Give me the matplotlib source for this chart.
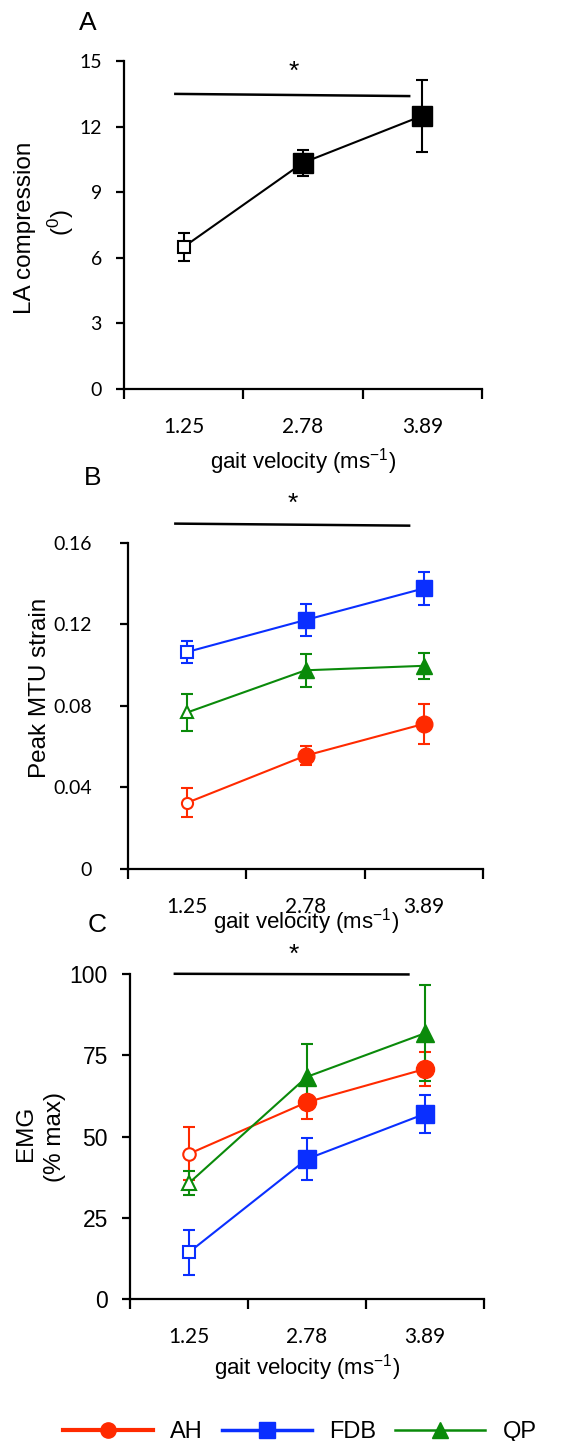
import numpy as np
import matplotlib.pyplot as plt
from matplotlib.lines import Line2D

plt.rcParams['font.family'] = ['Liberation Sans', 'DejaVu Sans']
plt.rcParams['mathtext.fontset'] = 'custom'
plt.rcParams['mathtext.rm'] = 'Liberation Sans'
plt.rcParams['mathtext.it'] = 'Liberation Sans:italic'

# gait velocities (m/s)
velocity = ['1.25', '2.78', '3.89']

# A: longitudinal arch compression (deg)
la_mean = [6.5, 10.35, 12.5]
la_err = [0.65, 0.6, 1.65]

# B: peak MTU strain
strain_ah = [0.0325, 0.0556, 0.0712]
strain_ah_err = [0.0072, 0.0047, 0.0098]
strain_fdb = [0.1065, 0.1222, 0.1377]
strain_fdb_err = [0.0052, 0.0080, 0.0080]
strain_qp = [0.0768, 0.0975, 0.0997]
strain_qp_err = [0.0093, 0.0080, 0.0063]

# C: EMG (% max)
emg_ah = [44.7, 60.6, 70.8]
emg_ah_err = [8.2, 5.2, 5.3]
emg_fdb = [14.4, 43.1, 57.0]
emg_fdb_err = [6.9, 6.6, 5.8]
emg_qp = [35.7, 68.4, 81.8]
emg_qp_err = [3.8, 10.0, 14.8]

RED = '#ff2a00'
BLUE = '#0a2fff'
GREEN = '#0a8a0a'

fig = plt.figure(figsize=(5.69, 14.41), dpi=100)
axA = fig.add_axes([0.218, 0.730, 0.629, 0.2276])
axB = fig.add_axes([0.225, 0.397, 0.624, 0.2262])
axC = fig.add_axes([0.2285, 0.0985, 0.622, 0.2255])

x = np.arange(len(velocity)) + 0.5


def style_axes(ax, ymax, yticks, ylabels, yfont, ypad, xlab_y):
    for s in ['top', 'right']:
        ax.spines[s].set_visible(False)
    for s in ['left', 'bottom']:
        ax.spines[s].set_linewidth(1.6)
    ax.set_xlim(0, 3)
    ax.set_ylim(0, ymax)
    ax.set_xticks([0, 1, 2, 3])
    ax.set_xticklabels([])
    ax.set_xticks(x, velocity, minor=True)
    ax.tick_params(axis='x', which='major', length=7, width=1.6, direction='out')
    ax.tick_params(axis='x', which='minor', length=0, pad=20, labelsize=15)
    for t in ax.get_xticklabels(minor=True):
        t.set_family(['Lato', 'DejaVu Sans'])
    ax.set_yticks(yticks, ylabels)
    ax.tick_params(axis='y', length=6, width=1.6, direction='out', pad=ypad,
                   labelsize=yfont[1])
    for t in ax.get_yticklabels():
        t.set_family([yfont[0], 'DejaVu Sans'])
    ax.text(0.5, xlab_y, 'gait velocity (ms$^{-1}$)', transform=ax.transAxes,
            ha='center', va='center', fontsize=16)


def draw_series(ax, y, err, color, marker, ms_open, ms_fill, lw=1.5):
    ax.errorbar(x, y, yerr=err, fmt='none', ecolor=color, elinewidth=lw,
                capsize=4.5, capthick=lw, zorder=2)
    ax.plot(x, y, color=color, lw=lw, zorder=3)
    ax.plot(x[:1], y[:1], marker, mfc='white', mec=color, mew=1.5,
            ms=ms_open, ls='none', zorder=4)
    ax.plot(x[1:], y[1:], marker, color=color, ms=ms_fill, ls='none', zorder=4)


# Panel A
style_axes(axA, 15, [0, 3, 6, 9, 12, 15], ['0', '3', '6', '9', '12', '15'],
           ('Lato', 14), 10, -0.22)
draw_series(axA, la_mean, la_err, 'black', 's', 9, 14)
axA.plot([0.43, 2.39], [13.5, 13.4], color='black', lw=1.8, clip_on=False)
axA.text(1.42, 14.5, '*', ha='center', va='center', fontsize=19)
fig.text(88 / 569, 1 - 23 / 1441, 'A', ha='center', va='center', fontsize=19)
fig.text(25 / 569, 1 - 228 / 1441, 'LA compression', rotation=90,
         ha='center', va='center', fontsize=17.5)
fig.text(61 / 569, 1 - 223 / 1441, '($^{0}$)', rotation=90,
         ha='center', va='center', fontsize=17.5)

# Panel B
style_axes(axB, 0.16, [0, 0.04, 0.08, 0.12, 0.16],
           ['0', '0.04', '0.08', '0.12', '0.16'], ('Lato', 14), 20, -0.16)
draw_series(axB, strain_fdb, strain_fdb_err, BLUE, 's', 8, 11)
draw_series(axB, strain_qp, strain_qp_err, GREEN, '^', 9, 12)
draw_series(axB, strain_ah, strain_ah_err, RED, 'o', 8, 12)
axB.plot([0.40, 2.375], [0.1695, 0.1685], color='black', lw=1.8, clip_on=False)
axB.text(1.39, 0.1790, '*', ha='center', va='center', fontsize=19)
fig.text(93 / 569, 1 - 478 / 1441, 'B', ha='center', va='center', fontsize=19)
fig.text(40 / 569, 1 - 688 / 1441, 'Peak MTU strain', rotation=90,
         ha='center', va='center', fontsize=17.5)

# Panel C
style_axes(axC, 100, [0, 25, 50, 75, 100], ['0', '25', '50', '75', '100'],
           ('Liberation Sans', 16.5), 10, -0.21)
draw_series(axC, emg_fdb, emg_fdb_err, BLUE, 's', 9, 13)
draw_series(axC, emg_ah, emg_ah_err, RED, 'o', 9, 13)
draw_series(axC, emg_qp, emg_qp_err, GREEN, '^', 10, 13)
axC.plot([0.38, 2.36], [100.1, 99.9], color='black', lw=1.8, clip_on=False)
axC.text(1.39, 106.0, '*', ha='center', va='center', fontsize=19)
fig.text(97 / 569, 1 - 925 / 1441, 'C', ha='center', va='center', fontsize=19)
fig.text(26 / 569, 1 - 1133 / 1441, 'EMG', rotation=90,
         ha='center', va='center', fontsize=17.5)
fig.text(55 / 569, 1 - 1137 / 1441, '(% max)', rotation=90,
         ha='center', va='center', fontsize=17.5)

# Legend along the bottom edge
handles = [
    Line2D([], [], color=RED, lw=3, marker='o', ms=11),
    Line2D([], [], color=BLUE, lw=2.5, marker='s', ms=11),
    Line2D([], [], color=GREEN, lw=1.8, marker='^', ms=12),
]
fig.legend(handles, ['AH', 'FDB', 'QP'], loc='center left', ncol=3,
           bbox_to_anchor=(63 / 569, 1 - 1432 / 1441), frameon=False,
           fontsize=17, handlelength=3.8, handletextpad=0.75,
           columnspacing=0.8, borderpad=0, borderaxespad=0)

fig.savefig('out.png', dpi=100)
